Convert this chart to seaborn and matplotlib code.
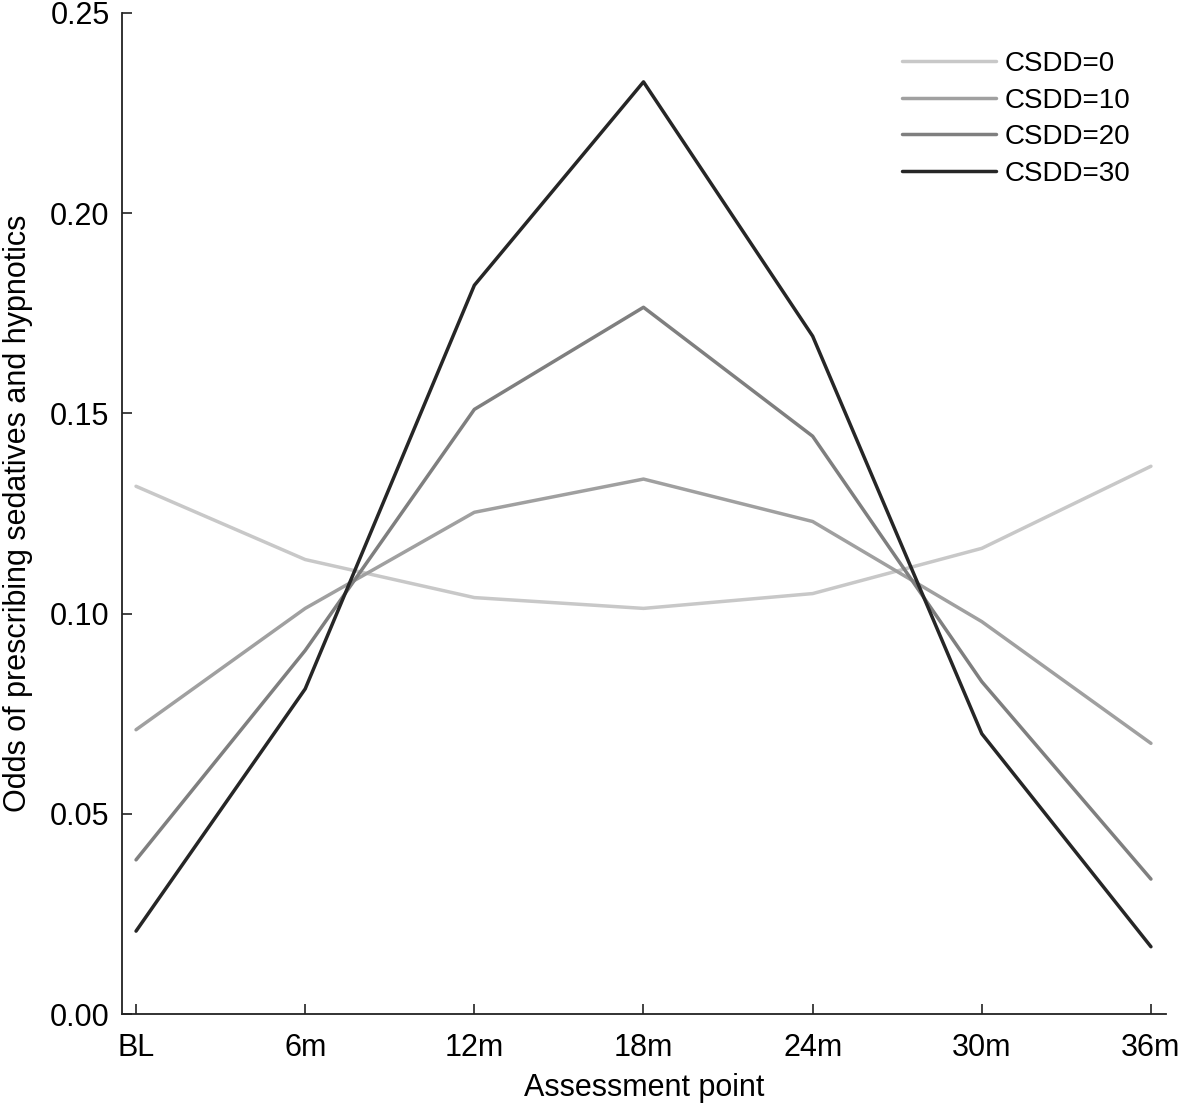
import numpy as np
import pandas as pd
import matplotlib
matplotlib.use("Agg")
import matplotlib.pyplot as plt
import seaborn as sns

timepoints = ["BL", "6m", "12m", "18m", "24m", "30m", "36m"]
csdd0 = [0.1318, 0.1135, 0.1040, 0.1013, 0.1050, 0.1163, 0.1368]
csdd10 = [0.0710, 0.1013, 0.1253, 0.1336, 0.1230, 0.0980, 0.0676]
csdd20 = [0.0385, 0.0908, 0.1510, 0.1765, 0.1443, 0.0830, 0.0337]
csdd30 = [0.0207, 0.0812, 0.1820, 0.2328, 0.1693, 0.0700, 0.0168]
series_names = ["CSDD=0", "CSDD=10", "CSDD=20", "CSDD=30"]
colors = ["#c8c8c8", "#a0a0a0", "#7f7f7f", "#262626"]

rows = []
for name, vals in zip(series_names, [csdd0, csdd10, csdd20, csdd30]):
    for i, v in enumerate(vals):
        rows.append({"x": i, "y": v, "series": name})
df = pd.DataFrame(rows)

sns.set_theme(style="ticks")
plt.rcParams['font.family'] = ['Liberation Sans', 'DejaVu Sans']
plt.rcParams['text.color'] = 'black'
plt.rcParams['axes.labelcolor'] = 'black'

fig = plt.figure(figsize=(11.81, 11.07), dpi=100)
ax = fig.add_axes([122/1181, 1 - 1014/1107, (1166-122)/1181, (1014-13)/1107])

sns.lineplot(data=df, x="x", y="y", hue="series", hue_order=series_names,
             palette=colors, linewidth=2.5, ax=ax, legend=True)

ax.set_xlim(-0.083, 6.089)
ax.set_ylim(0, 0.25)
ax.set_xticks(range(len(timepoints)))
ax.set_xticklabels(timepoints)
ax.set_yticks([0, 0.05, 0.10, 0.15, 0.20, 0.25])
ax.set_yticklabels(["0.00", "0.05", "0.10", "0.15", "0.20", "0.25"])
for s in ["top", "right"]:
    ax.spines[s].set_visible(False)
for s in ["left", "bottom"]:
    ax.spines[s].set_linewidth(1.3)
    ax.spines[s].set_color("#222222")
ax.tick_params(direction="in", length=7, width=1.2, color="#222222",
               labelsize=22, labelcolor="black")
ax.tick_params(axis="y", pad=9)
ax.tick_params(axis="x", pad=14)
ax.set_xlabel("Assessment point", fontsize=22, labelpad=7)
ax.set_ylabel("Odds of prescribing sedatives and hypnotics", fontsize=22, labelpad=12)

leg = ax.legend(loc="upper right", bbox_to_anchor=(0.99, 0.987), frameon=False,
                fontsize=20, handlelength=3.4, handletextpad=0.3, labelspacing=0.38)
for line in leg.get_lines():
    line.set_linewidth(2.5)

fig.savefig("out.png", dpi=100)
